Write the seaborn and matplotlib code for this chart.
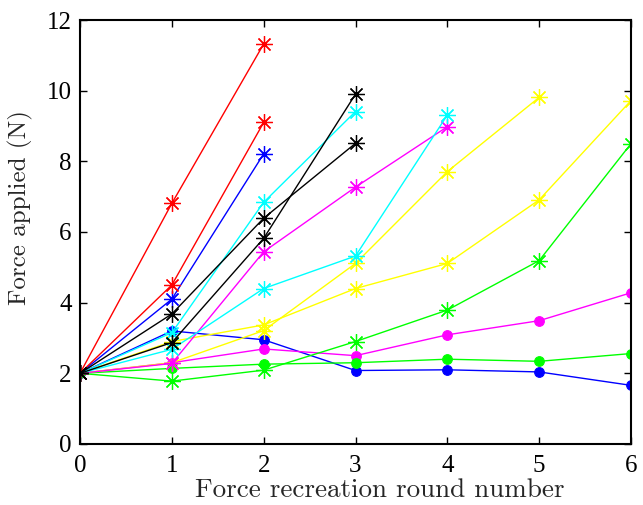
import matplotlib
matplotlib.use("Agg")
import matplotlib.pyplot as plt
import seaborn as sns

# data (force in N per recreation round)
rounds = [0, 1, 2, 3, 4, 5, 6]

blue_dot = [2, 3.2, 2.95, 2.08, 2.1, 2.04, 1.66]
magenta_dot = [2, 2.3, 2.69, 2.5, 3.09, 3.49, 4.28]
green_dot = [2, 2.14, 2.26, 2.3, 2.4, 2.34, 2.56]

green_star = [2, 1.78, 2.09, 2.9, 3.79, 5.19, 8.5]
yellow_a = [2, 2.3, 3.21, 5.11, 7.71, 9.81]
yellow_b = [2, 2.9, 3.37, 4.4, 5.11, 6.91, 9.72]
magenta_star = [2, 2.28, 5.44, 7.27, 8.98]
cyan_a = [2, 3.15, 6.84, 9.41]
cyan_b = [2, 2.68, 4.4, 5.32, 9.31]
blue_star = [2, 4.1, 8.21]
red_a = [2, 6.81, 11.32]
red_b = [2, 4.5, 9.1]
black_a = [2, 3.68, 6.39, 8.51]
black_b = [2, 2.87, 5.82, 9.9]

# plain matlab-ish colours
RED, BLUE, GREEN = "#ff0000", "#0000ff", "#00ff00"
CYAN, MAGENTA, YELLOW, BLACK = "#00ffff", "#ff00ff", "#ffff00", "#000000"

dot_series = [(blue_dot, BLUE), (magenta_dot, MAGENTA), (green_dot, GREEN)]
star_series = [
    (green_star, GREEN), (yellow_a, YELLOW), (yellow_b, YELLOW),
    (magenta_star, MAGENTA), (cyan_a, CYAN), (cyan_b, CYAN), (blue_star, BLUE),
    (red_a, RED), (red_b, RED), (black_a, BLACK), (black_b, BLACK),
]

sns.set_style("ticks")
plt.rcParams["font.family"] = ["Liberation Serif", "DejaVu Serif"]

fig = plt.figure(figsize=(6.43, 5.05), dpi=100)
ax = fig.add_axes([80 / 643, 61 / 505, 551 / 643, 424 / 505])

for vals, col in dot_series:
    sns.lineplot(x=rounds[:len(vals)], y=vals, color=col, marker="o",
                 markersize=7, markeredgecolor=col, linewidth=1.0, ax=ax)

for vals, col in star_series:
    sns.lineplot(x=rounds[:len(vals)], y=vals, color=col, marker=(8, 2, 0),
                 markersize=12, markeredgecolor=col, markeredgewidth=0.9,
                 linewidth=1.0, ax=ax)

ax.set_xlim(0, 6)
ax.set_ylim(0, 12)
ax.set_xticks(rounds)
ax.set_yticks([0, 2, 4, 6, 8, 10, 12])

for side in ["top", "right", "left", "bottom"]:
    ax.spines[side].set_visible(True)
    ax.spines[side].set_linewidth(1.5)
    ax.spines[side].set_color("black")
ax.tick_params(direction="in", length=5, width=1, top=True, right=True,
               labelsize=18, colors="black")
ax.tick_params(axis="x", pad=8)
ax.tick_params(axis="y", pad=6)

ax.set_xlabel("Force recreation round number", fontfamily="cmr10", fontsize=19.5)
ax.set_ylabel("Force applied (N)", fontfamily="cmr10", fontsize=18)
ax.xaxis.set_label_coords((380 - 80) / 551, -0.08)
ax.yaxis.set_label_coords(-0.085, 0.557)

fig.savefig("out.png", dpi=100)
